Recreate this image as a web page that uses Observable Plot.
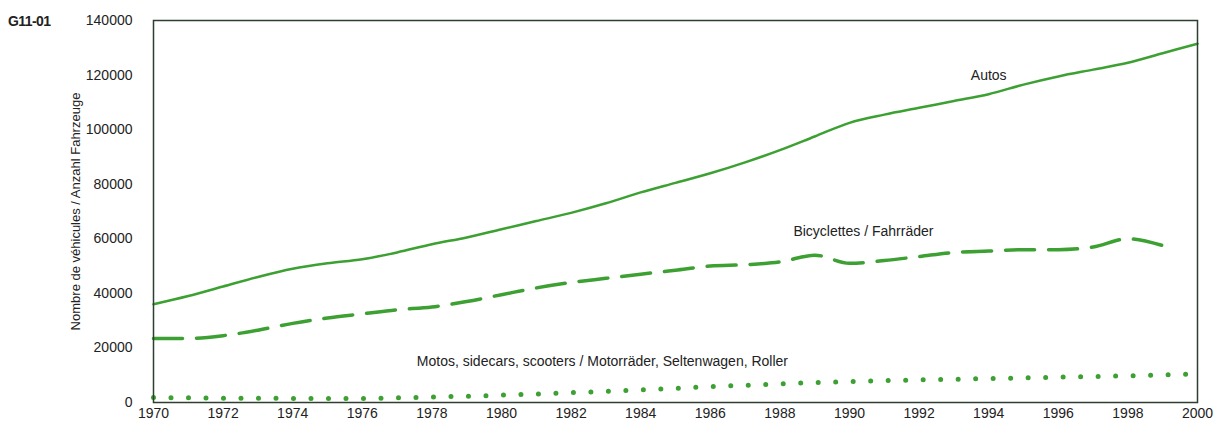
<!DOCTYPE html>
<html>
<head>
<meta charset="utf-8">
<script src="https://cdn.jsdelivr.net/npm/d3@7"></script>
<script src="https://cdn.jsdelivr.net/npm/@observablehq/plot@0.6"></script>
<style>
  html, body { margin: 0; padding: 0; background: #fff; }
  #wrap { position: relative; width: 1215px; height: 434px; }
  #code { position: absolute; left: 8px; top: 13px; font: bold 14px "Liberation Sans", Arial, sans-serif; color: #222; letter-spacing: -0.6px; }
</style>
</head>
<body>
<div id="wrap"><div id="code">G11-01</div><div id="chart"></div></div>
<script>
const years = d3.range(1970, 2001);
const autos = [36000, 39000, 42500, 46000, 49000, 51000, 52500, 55000, 58000, 60500, 63500, 66500, 69500, 73000, 77000, 80500, 84000, 88000, 92500, 97500, 102500, 105500, 108000, 110500, 113000, 116500, 119500, 122000, 124500, 128000, 131500];
const bikeYears = d3.range(1970, 2000);
const bikes = [23500, 23500, 24500, 26500, 29000, 31000, 32500, 34000, 35000, 37000, 39500, 42000, 44000, 45500, 47000, 48500, 50000, 50500, 51500, 54000, 51000, 52000, 53500, 55000, 55500, 56000, 56000, 57000, 60000, 57500];
const motos = [1800, 1700, 1600, 1600, 1500, 1500, 1500, 1700, 2000, 2300, 2700, 3100, 3600, 4100, 4600, 5200, 5800, 6300, 6800, 7300, 7700, 8000, 8300, 8500, 8800, 9000, 9300, 9500, 9800, 10100, 10500];
const xTicks = d3.range(1970, 2001, 2);
const yTicks = [0, 20000, 40000, 60000, 80000, 100000, 120000, 140000];
const labels = [
  {x: 1994.0, y: 120000, text: "Autos"},
  {x: 1990.4, y: 62500, text: "Bicyclettes / Fahrräder"},
  {x: 1982.9, y: 15000, text: "Motos, sidecars, scooters / Motorräder, Seltenwagen, Roller"}
];
const yTitle = "Nombre de véhicules / Anzahl Fahrzeuge";

const green = "#3da032";
const font = '"Liberation Sans", Arial, sans-serif';

const autoData = years.map((y, i) => ({year: y, v: autos[i]}));
const bikeData = bikeYears.map((y, i) => ({year: y, v: bikes[i]}));
const motoData = years.map((y, i) => ({year: y, v: motos[i]}));

const chart = Plot.plot({
  width: 1215,
  height: 434,
  marginLeft: 153,
  marginRight: 18,
  marginTop: 20,
  marginBottom: 32,
  style: {fontFamily: font, fontSize: "14px", color: "#222", background: "#fff"},
  x: {domain: [1970, 2000]},
  y: {domain: [0, 140000]},
  marks: [
    Plot.line(motoData, {x: "year", y: "v", stroke: green, strokeWidth: 5, strokeDasharray: "0,17.5", strokeLinecap: "round", curve: "monotone-x"}),
    Plot.line(bikeData, {x: "year", y: "v", stroke: green, strokeWidth: 3.5, strokeDasharray: "29,14", curve: "monotone-x"}),
    Plot.line(autoData, {x: "year", y: "v", stroke: green, strokeWidth: 2.5, curve: "monotone-x"}),
    Plot.frame({stroke: "#2f3f2f", strokeWidth: 1.5}),
    Plot.axisX({ticks: xTicks, tickFormat: d => String(d), tickSize: 0, tickPadding: 6, label: null, fontSize: 14}),
    Plot.axisY({ticks: yTicks, tickFormat: d3.format("d"), tickSize: 0, tickPadding: 21, label: null, fontSize: 14}),
    Plot.text([yTitle], {frameAnchor: "left", text: d => d, rotate: -90, dx: -78, fontSize: 13, fill: "#222", textAnchor: "middle"}),
    Plot.text(labels, {x: "x", y: "y", text: "text", fontSize: 14, fill: "#222", textAnchor: "middle"})
  ]
});
document.getElementById("chart").appendChild(chart);
</script>
</body>
</html>
